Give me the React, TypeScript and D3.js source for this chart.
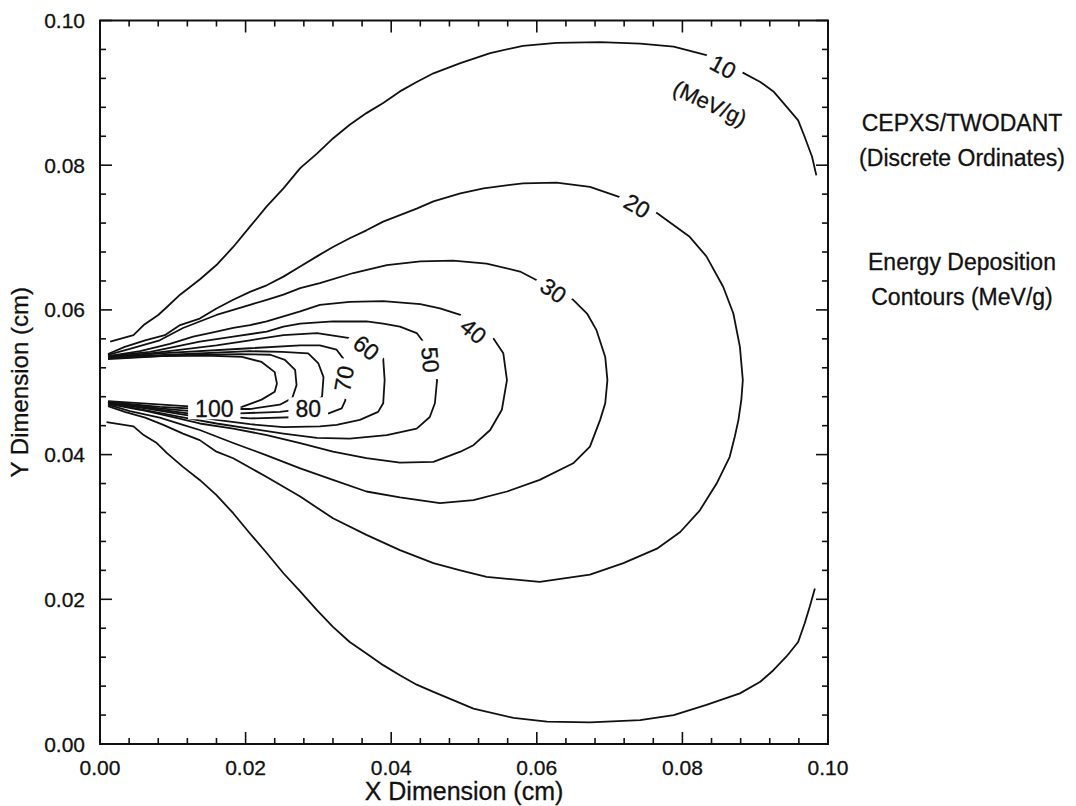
import * as d3 from "d3";
import {useEffect, useRef} from "react";

// contour lines of energy deposition, [x (cm), y (cm)]
const c10Upper = [
    [0.0014, 0.0556], [0.0046, 0.0565], [0.0060, 0.0579], [0.0080, 0.0593], [0.0092, 0.0604],
    [0.0110, 0.0621], [0.0137, 0.0642], [0.0160, 0.0662], [0.0183, 0.0687], [0.0206, 0.0715],
    [0.0229, 0.0743], [0.0252, 0.0768], [0.0275, 0.0796], [0.0298, 0.0816], [0.0320, 0.0837],
    [0.0343, 0.0856], [0.0366, 0.0872], [0.0389, 0.0886], [0.0412, 0.0902], [0.0435, 0.0915],
    [0.0458, 0.0927], [0.0495, 0.0941], [0.0536, 0.0955], [0.0581, 0.0965], [0.0627, 0.0969],
    [0.0687, 0.0970], [0.0742, 0.0968], [0.0788, 0.0964], [0.0833, 0.0952], [0.0856, 0.0938],
    [0.0881, 0.0929], [0.0907, 0.0915], [0.0925, 0.0902], [0.0943, 0.0881], [0.0959, 0.0862],
    [0.0968, 0.0839], [0.0978, 0.0812], [0.0984, 0.0786]
]
const c10Lower = [
    [0.0009, 0.0445], [0.0046, 0.0439], [0.0060, 0.0427], [0.0078, 0.0416], [0.0092, 0.0402],
    [0.0114, 0.0383], [0.0137, 0.0365], [0.0160, 0.0344], [0.0183, 0.0319], [0.0206, 0.0291],
    [0.0229, 0.0264], [0.0252, 0.0236], [0.0275, 0.0211], [0.0298, 0.0185], [0.0320, 0.0162],
    [0.0343, 0.0141], [0.0366, 0.0125], [0.0389, 0.0109], [0.0412, 0.0095], [0.0435, 0.0082],
    [0.0458, 0.0072], [0.0513, 0.0049], [0.0568, 0.0036], [0.0614, 0.0031], [0.0673, 0.0030],
    [0.0742, 0.0033], [0.0788, 0.0040], [0.0833, 0.0054], [0.0879, 0.0070], [0.0907, 0.0086],
    [0.0925, 0.0102], [0.0943, 0.0121], [0.0959, 0.0141], [0.0968, 0.0167], [0.0975, 0.0190],
    [0.0982, 0.0215]
]
const c20 = [
    [0.0011, 0.0539], [0.0034, 0.0549], [0.0062, 0.0558], [0.0089, 0.0565], [0.0110, 0.0579],
    [0.0137, 0.0588], [0.0160, 0.0602], [0.0183, 0.0614], [0.0206, 0.0625], [0.0229, 0.0634],
    [0.0252, 0.0646], [0.0275, 0.0660], [0.0298, 0.0674], [0.0320, 0.0687], [0.0343, 0.0699],
    [0.0366, 0.0710], [0.0389, 0.0722], [0.0412, 0.0731], [0.0435, 0.0740], [0.0458, 0.0750],
    [0.0495, 0.0761], [0.0527, 0.0768], [0.0581, 0.0775], [0.0627, 0.0776], [0.0673, 0.0770],
    [0.0714, 0.0756], [0.0737, 0.0745], [0.0765, 0.0734], [0.0810, 0.0701], [0.0833, 0.0674],
    [0.0856, 0.0632], [0.0870, 0.0595], [0.0879, 0.0549], [0.0883, 0.0503], [0.0881, 0.0476],
    [0.0877, 0.0448], [0.0872, 0.0425], [0.0865, 0.0397], [0.0847, 0.0360], [0.0824, 0.0323],
    [0.0797, 0.0293], [0.0765, 0.0270], [0.0719, 0.0250], [0.0673, 0.0234], [0.0604, 0.0224],
    [0.0531, 0.0231], [0.0495, 0.0240], [0.0458, 0.0250], [0.0412, 0.0268], [0.0366, 0.0289],
    [0.0320, 0.0312], [0.0275, 0.0342], [0.0229, 0.0369], [0.0183, 0.0395], [0.0160, 0.0404],
    [0.0137, 0.0420], [0.0114, 0.0429], [0.0087, 0.0441], [0.0062, 0.0451], [0.0034, 0.0459],
    [0.0011, 0.0467]
]
const c30 = [
    [0.0011, 0.0538], [0.0041, 0.0546], [0.0082, 0.0558], [0.0114, 0.0575], [0.0137, 0.0584],
    [0.0160, 0.0593], [0.0183, 0.0600], [0.0206, 0.0607], [0.0229, 0.0614], [0.0252, 0.0621],
    [0.0275, 0.0630], [0.0302, 0.0637], [0.0348, 0.0651], [0.0394, 0.0662], [0.0440, 0.0667],
    [0.0485, 0.0668], [0.0531, 0.0664], [0.0577, 0.0653], [0.0600, 0.0641], [0.0623, 0.0628],
    [0.0650, 0.0614], [0.0669, 0.0595], [0.0682, 0.0572], [0.0694, 0.0535], [0.0697, 0.0503],
    [0.0694, 0.0471], [0.0687, 0.0448], [0.0673, 0.0411], [0.0650, 0.0388], [0.0604, 0.0365],
    [0.0559, 0.0349], [0.0513, 0.0337], [0.0467, 0.0333], [0.0412, 0.0341], [0.0366, 0.0349],
    [0.0320, 0.0365], [0.0275, 0.0381], [0.0229, 0.0399], [0.0183, 0.0416], [0.0137, 0.0434],
    [0.0114, 0.0441], [0.0082, 0.0451], [0.0041, 0.0460], [0.0011, 0.0469]
]
const c40 = [
    [0.0011, 0.0536], [0.0055, 0.0543], [0.0096, 0.0553], [0.0128, 0.0563], [0.0160, 0.0570],
    [0.0183, 0.0575], [0.0206, 0.0579], [0.0229, 0.0584], [0.0252, 0.0591], [0.0275, 0.0598],
    [0.0302, 0.0607], [0.0343, 0.0611], [0.0389, 0.0612], [0.0440, 0.0608], [0.0467, 0.0602],
    [0.0495, 0.0593], [0.0513, 0.0572], [0.0540, 0.0561], [0.0554, 0.0540], [0.0559, 0.0503],
    [0.0552, 0.0462], [0.0536, 0.0434], [0.0513, 0.0413], [0.0495, 0.0404], [0.0458, 0.0390],
    [0.0412, 0.0389], [0.0366, 0.0395], [0.0320, 0.0404], [0.0275, 0.0416], [0.0229, 0.0427],
    [0.0183, 0.0436], [0.0137, 0.0443], [0.0096, 0.0453], [0.0055, 0.0462], [0.0011, 0.0470]
]
const c50 = [
    [0.0011, 0.0536], [0.0069, 0.0542], [0.0137, 0.0556], [0.0183, 0.0563], [0.0229, 0.0570],
    [0.0252, 0.0577], [0.0275, 0.0581], [0.0320, 0.0584], [0.0366, 0.0584], [0.0389, 0.0581],
    [0.0412, 0.0577], [0.0435, 0.0568], [0.0444, 0.0556], [0.0453, 0.0531], [0.0463, 0.0503],
    [0.0460, 0.0471], [0.0453, 0.0452], [0.0435, 0.0436], [0.0394, 0.0427], [0.0343, 0.0422],
    [0.0298, 0.0423], [0.0252, 0.0429], [0.0206, 0.0436], [0.0160, 0.0443], [0.0110, 0.0452],
    [0.0069, 0.0460], [0.0011, 0.0471]
]
const c60 = [
    [0.0011, 0.0535], [0.0069, 0.0540], [0.0160, 0.0551], [0.0206, 0.0558], [0.0252, 0.0565],
    [0.0298, 0.0568], [0.0343, 0.0561], [0.0366, 0.0547], [0.0389, 0.0533], [0.0391, 0.0503],
    [0.0389, 0.0471], [0.0382, 0.0459], [0.0357, 0.0448], [0.0325, 0.0441], [0.0302, 0.0439],
    [0.0252, 0.0438], [0.0206, 0.0442], [0.0160, 0.0448], [0.0110, 0.0456], [0.0069, 0.0463],
    [0.0011, 0.0472]
]
const c70 = [
    [0.0011, 0.0534], [0.0082, 0.0540], [0.0206, 0.0547], [0.0275, 0.0551], [0.0302, 0.0551],
    [0.0325, 0.0545], [0.0334, 0.0533], [0.0337, 0.0503], [0.0337, 0.0475], [0.0332, 0.0464],
    [0.0314, 0.0457], [0.0275, 0.0452], [0.0206, 0.0450], [0.0137, 0.0455], [0.0082, 0.0462],
    [0.0011, 0.0473]
]
const c80 = [
    [0.0011, 0.0534], [0.0096, 0.0538], [0.0206, 0.0543], [0.0250, 0.0542], [0.0286, 0.0540],
    [0.0300, 0.0526], [0.0307, 0.0507], [0.0305, 0.0480], [0.0286, 0.0464], [0.0247, 0.0459],
    [0.0192, 0.0457], [0.0137, 0.0459], [0.0082, 0.0464], [0.0011, 0.0473]
]
const c90 = [
    [0.0011, 0.0533], [0.0096, 0.0537], [0.0192, 0.0539], [0.0234, 0.0538], [0.0254, 0.0531],
    [0.0268, 0.0517], [0.0270, 0.0496], [0.0264, 0.0478], [0.0247, 0.0469], [0.0206, 0.0463],
    [0.0137, 0.0463], [0.0082, 0.0466], [0.0011, 0.0473]
]
const c100 = [
    [0.0011, 0.0532], [0.0085, 0.0536], [0.0144, 0.0537], [0.0195, 0.0535], [0.0222, 0.0528],
    [0.0240, 0.0514], [0.0243, 0.0498], [0.0240, 0.0487], [0.0222, 0.0476], [0.0195, 0.0466],
    [0.0158, 0.0464], [0.0117, 0.0467], [0.0011, 0.0474]
]

const contourLines = [c10Upper, c10Lower, c20, c30, c40, c50, c60, c70, c80, c90, c100]

// contour labels: text, x, y (cm), rotation
const labelText = ["10", "20", "30", "40", "50", "60", "70", "80", "100"]
const labelX = [0.0856, 0.0738, 0.0623, 0.0513, 0.0454, 0.0366, 0.0335, 0.0286, 0.0157]
const labelY = [0.0936, 0.0744, 0.0627, 0.0571, 0.0531, 0.0548, 0.0505, 0.0464, 0.0464]
const labelAngle = [28, 30, 35, 40, 85, 38, -80, 0, 0]

const xTicks = [0, 0.02, 0.04, 0.06, 0.08, 0.10]
const yTicks = [0, 0.02, 0.04, 0.06, 0.08, 0.10]

const noteLines = ["CEPXS/TWODANT", "(Discrete Ordinates)", "Energy Deposition", "Contours (MeV/g)"]

const FONT = "'Liberation Sans', Arial, Helvetica, sans-serif"

const ContourChart = () => {
    const ref = useRef(null)

    useEffect(() => {
        const svg = d3.select(ref.current)
        svg.selectAll("*").remove()

        const x = d3.scaleLinear().domain([0, 0.1]).range([100, 828])
        const y = d3.scaleLinear().domain([0, 0.1]).range([744, 20.5])

        svg.append("rect").attr("width", 1076).attr("height", 806).attr("fill", "white")

        const line = d3.line().x(d => x(d[0])).y(d => y(d[1]))

        svg.selectAll("path.contour")
            .data(contourLines)
            .enter()
            .append("path")
            .attr("class", "contour")
            .attr("d", d => line(d))
            .attr("fill", "none")
            .attr("stroke", "#111")
            .attr("stroke-width", 1.8)
            .attr("stroke-linejoin", "round")

        // labels with white boxes cutting the lines
        labelText.forEach((txt, i) => {
            const g = svg.append("g")
                .attr("transform", "translate(" + x(labelX[i]) + "," + y(labelY[i]) + ") rotate(" + labelAngle[i] + ")")
            const t = g.append("text")
                .text(txt)
                .attr("text-anchor", "middle")
                .attr("dy", "0.36em")
                .style("font-family", FONT)
                .style("font-size", "23px")
                .attr("fill", "#111")
                .attr("stroke", "#111")
                .attr("stroke-width", 0.3)
            const w = t.node().getComputedTextLength()
            g.insert("rect", "text")
                .attr("x", -w / 2 - 7)
                .attr("y", -11)
                .attr("width", w + 14)
                .attr("height", 22)
                .attr("fill", "white")
        })

        svg.append("text")
            .attr("transform", "translate(" + x(0.0838) + "," + y(0.0886) + ") rotate(25)")
            .attr("text-anchor", "middle")
            .attr("dy", "0.36em")
            .style("font-family", FONT)
            .style("font-size", "22px")
            .attr("fill", "#111")
            .attr("stroke", "#111")
            .attr("stroke-width", 0.3)
            .text("(MeV/g)")

        // frame
        svg.append("rect")
            .attr("x", x(0)).attr("y", y(0.1))
            .attr("width", x(0.1) - x(0)).attr("height", y(0) - y(0.1))
            .attr("fill", "none").attr("stroke", "#111").attr("stroke-width", 2)

        // ticks, all inward, on four sides
        const minor = d3.range(0, 26).map(i => i * 0.004)
        const tickG = svg.append("g").attr("stroke", "#111").attr("stroke-width", 1.6)
        minor.forEach((v, i) => {
            const len = i % 5 === 0 ? 12 : 6
            tickG.append("line").attr("x1", x(v)).attr("x2", x(v)).attr("y1", y(0)).attr("y2", y(0) - len)
            tickG.append("line").attr("x1", x(v)).attr("x2", x(v)).attr("y1", y(0.1)).attr("y2", y(0.1) + len)
            tickG.append("line").attr("y1", y(v)).attr("y2", y(v)).attr("x1", x(0)).attr("x2", x(0) + len)
            tickG.append("line").attr("y1", y(v)).attr("y2", y(v)).attr("x1", x(0.1)).attr("x2", x(0.1) - len)
        })

        const fmt = d3.format(".2f")
        svg.selectAll("text.xt")
            .data(xTicks)
            .enter()
            .append("text")
            .attr("class", "xt")
            .attr("x", d => x(d))
            .attr("y", 775)
            .attr("text-anchor", "middle")
            .style("font-family", FONT)
            .style("font-size", "21px")
            .attr("fill", "#111")
            .attr("stroke", "#111")
            .attr("stroke-width", 0.3)
            .text(d => fmt(d))

        svg.selectAll("text.yt")
            .data(yTicks)
            .enter()
            .append("text")
            .attr("class", "yt")
            .attr("x", 85)
            .attr("y", d => y(d))
            .attr("dy", "0.36em")
            .attr("text-anchor", "end")
            .style("font-family", FONT)
            .style("font-size", "21px")
            .attr("fill", "#111")
            .attr("stroke", "#111")
            .attr("stroke-width", 0.3)
            .text(d => fmt(d))

        svg.append("text")
            .attr("x", x(0.05))
            .attr("y", 800)
            .attr("text-anchor", "middle")
            .style("font-family", FONT)
            .style("font-size", "25px")
            .attr("fill", "#111")
            .attr("stroke", "#111")
            .attr("stroke-width", 0.3)
            .text("X Dimension (cm)")

        svg.append("text")
            .attr("transform", "translate(28," + y(0.05) + ") rotate(-90)")
            .attr("text-anchor", "middle")
            .style("font-family", FONT)
            .style("font-size", "24px")
            .attr("fill", "#111")
            .attr("stroke", "#111")
            .attr("stroke-width", 0.3)
            .text("Y Dimension (cm)")

        const noteY = [131, 166, 270, 305]
        noteLines.forEach((s, i) => {
            svg.append("text")
                .attr("x", 962)
                .attr("y", noteY[i])
                .attr("text-anchor", "middle")
                .style("font-family", FONT)
                .style("font-size", "23px")
                .attr("fill", "#111")
                .attr("stroke", "#111")
                .attr("stroke-width", 0.3)
                .text(s)
        })
    }, [])

    return (
        <svg
            ref={ref}
            width={1076}
            height={806}
            style={{position: "absolute", left: 0, top: 0}}>
        </svg>
    )
}

export default ContourChart;
